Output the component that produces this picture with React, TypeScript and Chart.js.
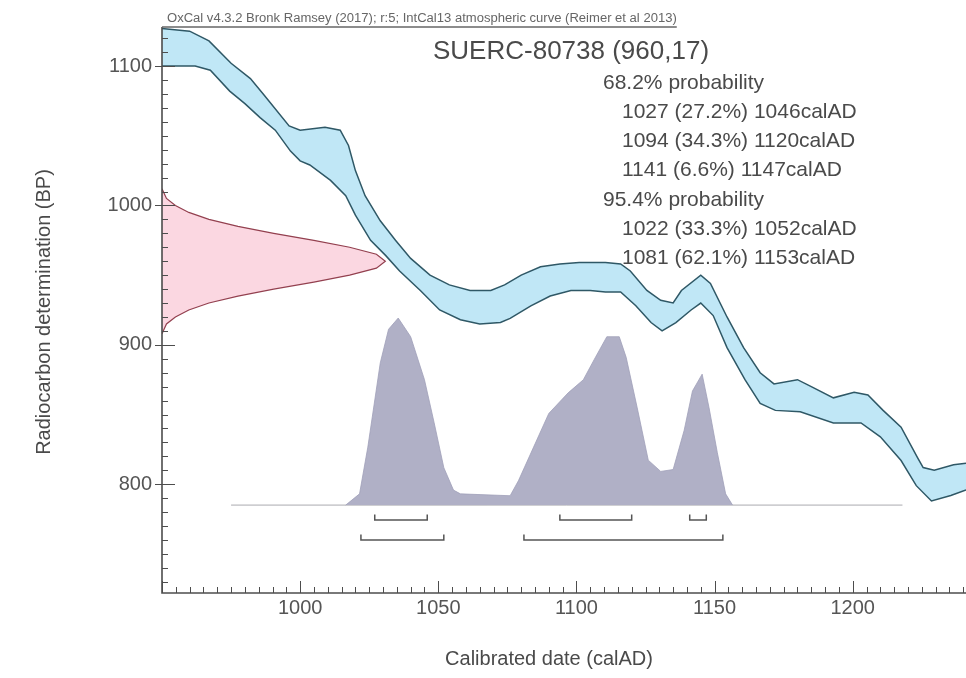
import React, { useEffect, useRef } from 'react';
import { Chart, registerables } from 'chart.js';

Chart.register(...registerables);

// ---------- data ----------
// IntCal13 calibration curve, upper (+1σ) edge
const curveUpperYears = [950, 960, 967, 975, 982, 987, 996, 1000, 1009, 1014.5, 1017.5, 1020, 1023.5, 1029, 1034.5, 1040, 1047, 1054, 1061.5, 1069, 1074, 1080, 1087, 1094, 1101, 1107, 1110.5, 1116, 1119.5, 1125.5, 1130.5, 1135, 1138, 1145, 1148.5, 1154.5, 1160.5, 1166.5, 1171.5, 1180, 1185, 1193, 1200.5, 1205.5, 1211, 1217.5, 1223.5, 1225.5, 1229.5, 1236.5, 1241];
const curveUpperBP = [1127, 1125, 1118, 1102, 1091, 1079, 1057, 1054, 1056, 1054, 1043, 1025, 1007, 989, 975, 962, 950, 943, 939, 939, 943, 950, 956, 958, 959, 959, 959, 958, 953, 939, 932, 930, 939, 950, 944, 920, 898, 880, 872, 875, 870, 862, 866, 864, 853, 841, 819, 812, 810, 814, 815];
// calibration curve, lower (-1σ) edge
const curveLowerYears = [950, 962, 967.5, 974.5, 980, 985.5, 991, 996.5, 1000, 1003.5, 1011, 1016.5, 1020, 1025.5, 1031, 1036, 1043.5, 1050.5, 1058, 1065, 1072.5, 1076, 1083.5, 1090.5, 1098, 1105, 1110.5, 1116, 1121.5, 1127, 1131, 1136, 1141.5, 1145, 1149.5, 1154.5, 1161, 1166.5, 1172, 1181, 1193, 1203, 1210, 1217.5, 1223, 1228.5, 1235.5, 1241];
const curveLowerBP = [1100, 1100, 1097, 1082, 1073, 1063, 1054, 1039, 1032, 1029, 1018, 1007, 993, 975, 964, 953, 939, 925, 918, 915, 916, 919, 928, 935, 939, 939, 938, 938, 928, 916, 910, 916, 925, 930, 921, 898, 875, 858, 853, 852, 844, 844, 834, 817, 799, 788, 792, 796];

// radiocarbon measurement 960 ± 17 BP (relative probability)
const measBP = [1012, 1005, 1000, 995, 990, 985, 980, 975, 970, 965, 960, 955, 950, 945, 940, 935, 930, 925, 920, 915, 908];
const measProb = [0, 0.02, 0.06, 0.12, 0.21, 0.34, 0.5, 0.68, 0.84, 0.96, 1.0, 0.96, 0.84, 0.68, 0.5, 0.34, 0.21, 0.12, 0.06, 0.02, 0];

// calibrated date distribution (relative probability)
const postYears = [1016.5, 1021.5, 1024.5, 1029, 1032, 1035.5, 1040, 1045, 1048.5, 1052, 1055.5, 1058, 1076, 1079, 1084.5, 1090, 1097, 1102.5, 1106.5, 1111, 1115.5, 1118, 1122, 1126, 1130.5, 1135, 1139, 1142, 1145.5, 1148, 1151, 1154, 1156.5];
const postProb = [0, 0.06, 0.31, 0.76, 0.94, 1.0, 0.9, 0.67, 0.44, 0.2, 0.08, 0.06, 0.05, 0.13, 0.31, 0.49, 0.6, 0.67, 0.78, 0.9, 0.9, 0.79, 0.52, 0.24, 0.18, 0.19, 0.4, 0.61, 0.7, 0.52, 0.28, 0.06, 0];
const baselineYears = [975, 1218];

// highest probability density ranges
const range68 = [[1027, 1046], [1094, 1120], [1141, 1147]];
const range95 = [[1022, 1052], [1081, 1153]];

// axis ticks and text
const xTickLabels = [1000, 1050, 1100, 1150, 1200];
const yTickLabels = [800, 900, 1000, 1100];
const xTitle = 'Calibrated date (calAD)';
const yTitle = 'Radiocarbon determination (BP)';
const headerText = 'OxCal v4.3.2 Bronk Ramsey (2017); r:5; IntCal13 atmospheric curve (Reimer et al 2013)';
const sampleTitle = 'SUERC-80738 (960,17)';
const probLines = [
  { text: '68.2% probability', indent: false },
  { text: '1027 (27.2%) 1046calAD', indent: true },
  { text: '1094 (34.3%) 1120calAD', indent: true },
  { text: '1141 (6.6%) 1147calAD', indent: true },
  { text: '95.4% probability', indent: false },
  { text: '1022 (33.3%) 1052calAD', indent: true },
  { text: '1081 (62.1%) 1153calAD', indent: true },
];

// ---------- styling ----------
const FONT = '"Liberation Sans", Arial, Helvetica, sans-serif';
const TEXT = '#4a4a4a';
const AXIS = '#4d4d4d';

function bracketPoints(ranges: number[][], level: number, lip: number) {
  const pts: any[] = [];
  ranges.forEach(([a, b]) => {
    pts.push({ x: a, y: level + lip }, { x: a, y: level }, { x: b, y: level }, { x: b, y: level + lip }, { x: b, y: null });
  });
  return pts;
}

const decorPlugin = {
  id: 'decor',
  afterDatasetsDraw(chart: any) {
    const { ctx, chartArea: a, scales } = chart;
    const xs = scales.x;
    const ys = scales.y;
    ctx.save();
    // axis lines
    ctx.strokeStyle = AXIS;
    ctx.lineWidth = 1.6;
    ctx.beginPath();
    ctx.moveTo(a.left, a.top);
    ctx.lineTo(a.left, a.bottom);
    ctx.lineTo(a.right, a.bottom);
    ctx.stroke();
    // x ticks (inside)
    ctx.lineWidth = 1;
    for (let v = Math.ceil(xs.min / 5) * 5; v <= xs.max; v += 5) {
      const px = Math.round(xs.getPixelForValue(v)) + 0.5;
      const len = v % 50 === 0 ? 12 : 6;
      ctx.beginPath();
      ctx.moveTo(px, a.bottom);
      ctx.lineTo(px, a.bottom - len);
      ctx.stroke();
    }
    // y ticks
    for (let v = Math.ceil(ys.min / 10) * 10; v <= ys.max; v += 10) {
      const py = Math.round(ys.getPixelForValue(v)) + 0.5;
      const major = v % 100 === 0;
      ctx.beginPath();
      ctx.moveTo(a.left - (major ? 7 : 0), py);
      ctx.lineTo(a.left + (major ? 13 : 6), py);
      ctx.stroke();
    }
    // header (fitted to its width in the reference)
    ctx.fillStyle = '#666';
    ctx.textAlign = 'left';
    ctx.textBaseline = 'alphabetic';
    ctx.font = `10px ${FONT}`;
    const w10 = ctx.measureText(headerText).width;
    const hSize = (10 * 510) / w10;
    ctx.font = `${hSize.toFixed(2)}px ${FONT}`;
    const hw = ctx.measureText(headerText).width;
    ctx.fillText(headerText, a.left + 5, a.top - 5);
    ctx.lineWidth = 1.3;
    ctx.strokeStyle = '#666';
    ctx.beginPath();
    ctx.moveTo(a.left, a.top);
    ctx.lineTo(a.left + 5 + hw, a.top);
    ctx.stroke();
    // sample title
    ctx.fillStyle = TEXT;
    ctx.textBaseline = 'middle';
    ctx.font = `26px ${FONT}`;
    ctx.fillText(sampleTitle, 433, 52);
    ctx.font = `21px ${FONT}`;
    probLines.forEach((l, i) => {
      ctx.fillText(l.text, l.indent ? 622 : 603, 83 + i * 29.2);
    });
    // axis titles
    ctx.font = `20px ${FONT}`;
    ctx.textAlign = 'center';
    ctx.fillText(xTitle, 549, 659);
    ctx.save();
    ctx.translate(44, 312);
    ctx.rotate(-Math.PI / 2);
    ctx.fillText(yTitle, 0, 0);
    ctx.restore();
    ctx.restore();
  },
};

export default function App() {
  const ref = useRef<HTMLCanvasElement>(null);
  useEffect(() => {
    document.body.style.margin = '0';
    const canvas = ref.current!;
    const upper = curveUpperYears.map((x, i) => ({ x, y: curveUpperBP[i] }));
    const lower = curveLowerYears.map((x, i) => ({ x, y: curveLowerBP[i] }));
    const band = [...upper, ...lower.slice().reverse()];
    const meas = measBP.map((y, i) => ({ x: measProb[i], y }));
    const post = postYears.map((x, i) => ({ x, y: postProb[i] }));
    const base = baselineYears.map((x) => ({ x, y: 0 }));

    const tickFont = { family: FONT, size: 20 };
    const chart = new Chart(canvas, {
      type: 'scatter',
      data: {
        datasets: [
          { data: upper, xAxisID: 'x', yAxisID: 'y', showLine: true, borderColor: '#2f5866', borderWidth: 1.5, pointRadius: 0, fill: false } as any,
          { data: lower, xAxisID: 'x', yAxisID: 'y', showLine: true, borderColor: '#2f5866', borderWidth: 1.5, pointRadius: 0, fill: false } as any,
          { data: meas, xAxisID: 'xp', yAxisID: 'y', showLine: true, borderColor: '#93404f', borderWidth: 1.2, pointRadius: 0, backgroundColor: 'rgba(250,208,220,0.85)', fill: 'shape' } as any,
          { data: band, xAxisID: 'x', yAxisID: 'y', showLine: true, borderWidth: 0, borderColor: 'rgba(0,0,0,0)', pointRadius: 0, backgroundColor: 'rgb(192,231,246)', fill: 'shape' } as any,
          { data: post, xAxisID: 'x', yAxisID: 'yp', showLine: true, borderWidth: 0.8, borderColor: 'rgb(160,160,185)', pointRadius: 0, backgroundColor: 'rgb(176,176,198)', fill: 'origin' } as any,
          { data: base, xAxisID: 'x', yAxisID: 'yp', showLine: true, borderWidth: 1, borderColor: 'rgb(170,170,175)', pointRadius: 0, fill: false } as any,
          { data: bracketPoints(range68, -0.08, 0.03), xAxisID: 'x', yAxisID: 'yp', showLine: true, spanGaps: false, borderWidth: 1.5, borderColor: '#555', pointRadius: 0, fill: false } as any,
          { data: bracketPoints(range95, -0.187, 0.03), xAxisID: 'x', yAxisID: 'yp', showLine: true, spanGaps: false, borderWidth: 1.5, borderColor: '#555', pointRadius: 0, fill: false } as any,
        ],
      },
      options: {
        responsive: false,
        animation: false,
        devicePixelRatio: 1,
        layout: { padding: { top: 27, right: 0, left: 0, bottom: 0 } },
        plugins: { legend: { display: false }, tooltip: { enabled: false }, title: { display: false } },
        elements: { line: { tension: 0 } },
        scales: {
          x: {
            type: 'linear', position: 'bottom', min: 950, max: 1241,
            grid: { display: false, drawTicks: false }, border: { display: false },
            ticks: { color: '#555', font: tickFont, padding: 3, autoSkip: false, maxRotation: 0, callback: (v: any) => String(v) },
            afterBuildTicks: (s: any) => { s.ticks = xTickLabels.map((v) => ({ value: v })); },
            afterFit: (s: any) => { s.height = 85; },
          },
          y: {
            type: 'linear', position: 'left', min: 722, max: 1128,
            grid: { display: false, drawTicks: false }, border: { display: false },
            ticks: { color: '#555', font: tickFont, padding: 10, autoSkip: false, callback: (v: any) => String(v) },
            afterBuildTicks: (s: any) => { s.ticks = yTickLabels.map((v) => ({ value: v })); },
            afterFit: (s: any) => { s.width = 162; },
          },
          xp: { type: 'linear', display: false, min: 0, max: 3.6, axis: 'x' },
          yp: { type: 'linear', display: false, min: -0.47, max: 2.556, axis: 'y' },
        },
      } as any,
      plugins: [decorPlugin],
    });
    return () => chart.destroy();
  }, []);
  return <canvas ref={ref} width={966} height={678} style={{ display: 'block' }} />;
}
